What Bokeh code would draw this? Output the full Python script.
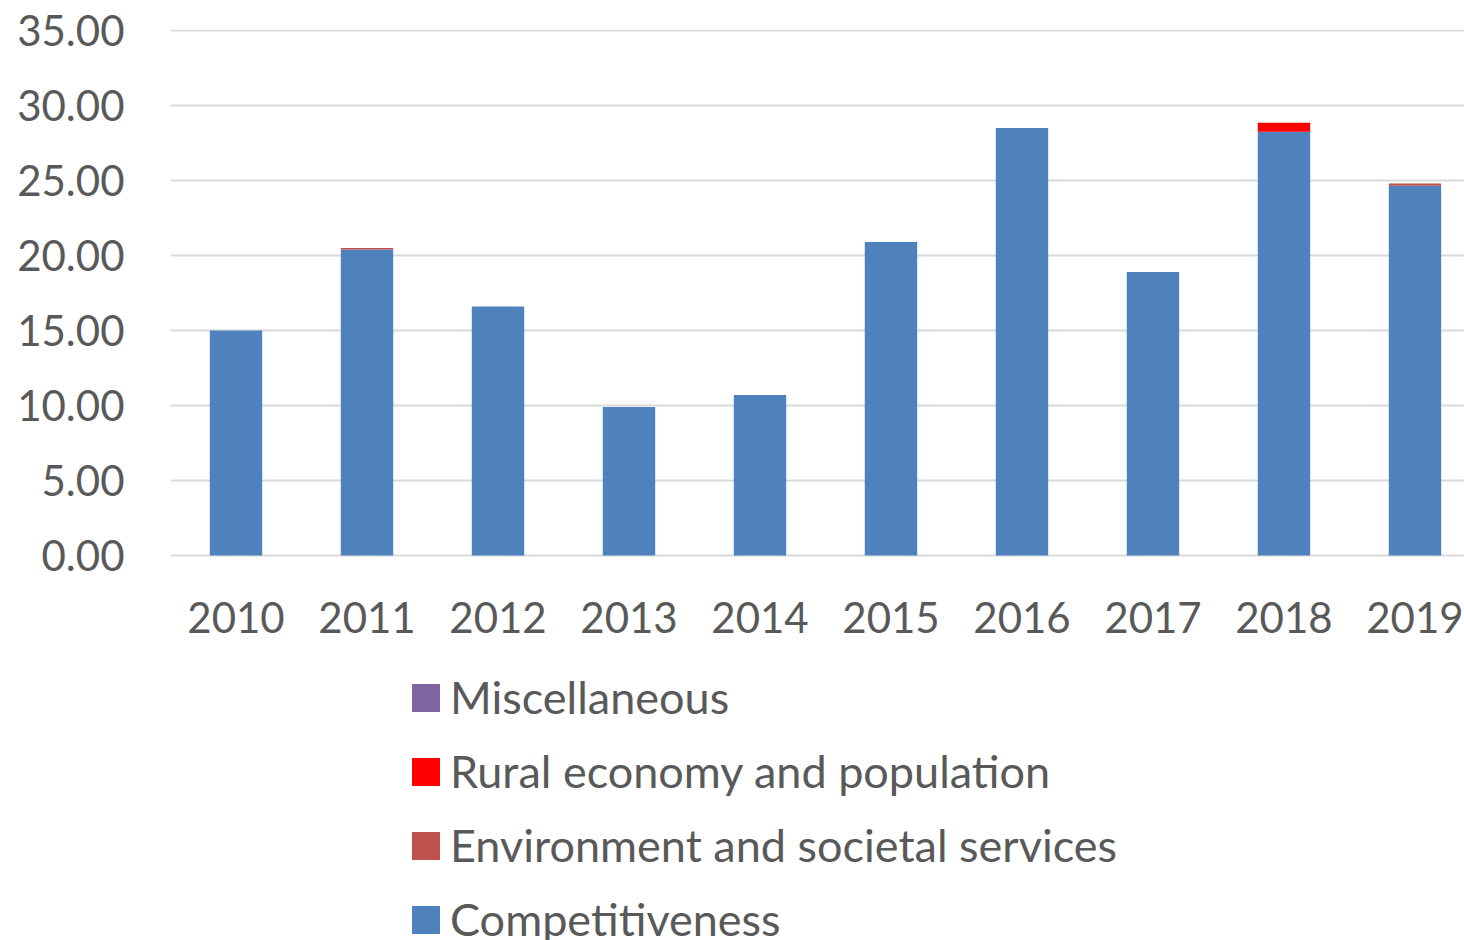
from bokeh.plotting import figure
from bokeh.models import Range1d, FixedTicker, Legend, LegendItem, ColumnDataSource
from bokeh.core.properties import value
from bokeh.embed import file_html
from bokeh.resources import INLINE

years = ["2010", "2011", "2012", "2013", "2014", "2015", "2016", "2017", "2018", "2019"]
competitiveness = [15.0, 20.4, 16.6, 9.9, 10.7, 20.9, 28.5, 18.9, 28.25, 24.65]
environment = [0.0, 0.1, 0.0, 0.0, 0.0, 0.0, 0.0, 0.0, 0.0, 0.15]
rural = [0.0, 0.0, 0.0, 0.0, 0.0, 0.0, 0.0, 0.0, 0.6, 0.0]
miscellaneous = [0.0] * 10
y_ticks = [0, 5, 10, 15, 20, 25, 30, 35]

series = ["Competitiveness", "Environment and societal services", "Rural economy and population", "Miscellaneous"]
colors = ["#4F81BD", "#C0504D", "#FF0000", "#8064A2"]

xs = list(range(len(years)))
data = dict(x=xs, Competitiveness=competitiveness)
data["Environment and societal services"] = environment
data["Rural economy and population"] = rural
data["Miscellaneous"] = miscellaneous

FONT = "Lato"
TXT = "#595959"

# frame spans from 29px to the bottom edge; value 0 sits at 555px (15 px per unit)
p = figure(width=1464, height=940, output_backend="svg", toolbar_location=None,
           x_axis_location=None,
           x_range=Range1d(-0.5, 9.378), y_range=Range1d(-25.667, 35.067),
           min_border_left=170, min_border_right=0, min_border_top=29, min_border_bottom=0)
p.outline_line_color = None
p.background_fill_color = "white"

rs = p.vbar_stack(series, x="x", width=0.4, color=colors, source=data, line_color=None)

p.xgrid.grid_line_color = None
p.ygrid.grid_line_color = "#D9D9D9"
p.ygrid.grid_line_width = 2
p.ygrid.ticker = FixedTicker(ticks=y_ticks)
p.yaxis.ticker = FixedTicker(ticks=y_ticks)
p.yaxis.major_label_overrides = {t: f"{t:.2f}" for t in y_ticks}
p.yaxis.major_tick_line_color = None
p.yaxis.minor_tick_line_color = None
p.yaxis.axis_line_color = None
p.yaxis.major_label_text_font = FONT
p.yaxis.major_label_text_font_size = "42px"
p.yaxis.major_label_text_color = TXT
p.yaxis.major_label_standoff = 40

# category labels under the bars
lab = ColumnDataSource(dict(x=xs, y=[0] * len(years), text=years))
p.text(x="x", y="y", text="text", source=lab, text_align="center", text_baseline="middle",
       y_offset=62, text_font=value(FONT), text_font_size="42px", text_color=TXT)

items = [LegendItem(label=series[i], renderers=[rs[i]]) for i in [3, 2, 1, 0]]
legend = Legend(items=items, location=(238, -6), orientation="vertical",
                label_text_font=FONT, label_text_font_size="45px", label_text_color=TXT,
                glyph_width=35, glyph_height=35, label_height=42, spacing=20,
                label_standoff=7, padding=0, margin=0,
                border_line_color=None, background_fill_alpha=0)
p.add_layout(legend, "center")

open("out.html", "w").write(file_html(p, INLINE))
